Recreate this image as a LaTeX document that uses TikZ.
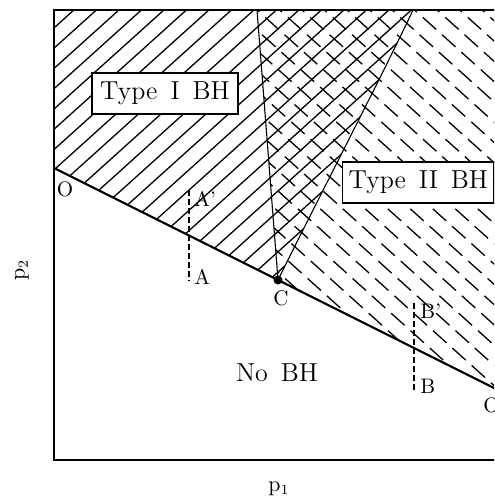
\documentclass[tikz,border=0pt]{standalone}
\usepackage{amsmath,amssymb}
\usepackage{tikz}
\usetikzlibrary{calc}

\newcommand{\wsp}{\hspace{0.5em}}

\tikzset{
  hatch/.style={line width=0.65pt},
  dashhatch/.style={line width=0.65pt, dash pattern=on 9pt off 4pt},
  guide/.style={line width=0.55pt, dash pattern=on 3pt off 1.5pt},
  regionbox/.style={draw, fill=white, line width=0.6pt, inner ysep=0pt, inner xsep=3pt, minimum height=20.5pt, font=\fontsize{13}{15}\selectfont},
  ptlabel/.style={font=\fontsize{10.5}{12}\selectfont, inner sep=0pt},
}

\begin{document}
\begin{tikzpicture}[x=0.5pt,y=-0.5pt]

\useasboundingbox (0,0) rectangle (494,498);
\clip (0,0) rectangle (494,498);

\coordinate (O1) at (54,168);
\coordinate (C) at (278,280);
\coordinate (O2) at (500,391);
\coordinate (Ltop) at (257,10);
\coordinate (Rtop) at (413,10);

\begin{scope}
\clip (54,10) -- (Rtop) .. controls (385,70) and (320,195) .. (C) -- (O1) -- cycle;
\foreach \n in {-2,...,26}
{
\draw[hatch] ({85+22.5*\n},0) -- ({85+22.5*\n-555},500);
}
\end{scope}

\begin{scope}
\clip (Ltop) -- (500,10) -- (O2) -- (C) -- cycle;
\foreach \n in {-22,...,4}
{
\draw[dashhatch] ({426+22.5*\n},0) -- ({426+22.5*\n+555},500);
}
\end{scope}

\draw[line width=0.75pt] (540,10) -- (54,10) -- (54,460) -- (540,460);

\draw[line width=0.55pt] (Ltop) -- (C);
\draw[line width=0.55pt] (C) .. controls (320,195) and (385,70) .. (Rtop);
\draw[line width=1.1pt] (O1) -- (C) -- (O2);
\node[circle, fill, inner sep=0pt, minimum size=4.5pt] (Cdot) at (C) {};

\coordinate (Atop) at (189,190);
\coordinate (Abot) at (189,281);
\coordinate (Btop) at (414,303);
\coordinate (Bbot) at (414,392);
\draw[guide] (Atop) -- (Abot);
\draw[guide] (Btop) -- (Bbot);

\node[regionbox, minimum width=73pt] (typeI) at (165,93.5) {Type\wsp I\wsp BH};
\node[regionbox, anchor=west] (typeII) at (342,182.5) {Type\wsp II\wsp BH};
\node[font=\fontsize{13}{15}\selectfont] (noBH) at (277,373) {No\wsp BH};

\node[ptlabel] (labO1) at (65,189) {O};
\node[ptlabel, anchor=west] (labAp) at (194,199) {A'};
\node[ptlabel, anchor=west] (labA) at (194,277) {A};
\node[ptlabel] (labC) at (281,298) {C};
\node[ptlabel, anchor=west] (labBp) at (420,311) {B'};
\node[ptlabel, anchor=west] (labB) at (420,386) {B};
\node[ptlabel, anchor=west] (labO2) at (483,405) {O};

\node[font=\fontsize{10.5}{12}\selectfont] (xlab) at (279,489) {$\mathrm{p}_1$};
\node[font=\fontsize{10.5}{12}\selectfont, rotate=90] (ylab) at (22,270) {$\mathrm{p}_2$};

\end{tikzpicture}
\end{document}
